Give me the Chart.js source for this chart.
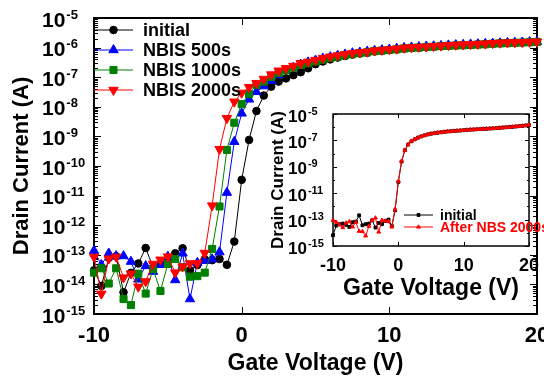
<!DOCTYPE html>
<html>
<head>
<meta charset="utf-8">
<script src="https://cdn.jsdelivr.net/npm/chart.js@4.4.1/dist/chart.umd.min.js"></script>
<style>
  html, body { margin: 0; padding: 0; background: #fff; }
  #wrap { position: relative; width: 544px; height: 378px; overflow: hidden; }
  #main { position: absolute; left: 0; top: 0; }
  #inset { position: absolute; left: 262px; top: 100px; }
</style>
</head>
<body>
<div id="wrap">
  <canvas id="main" width="544" height="378"></canvas>
  <canvas id="inset" width="282" height="205"></canvas>
</div>
<script>
// gate sweep (V)
const gateVoltage = [-10, -9.5, -9, -8.5, -8, -7.5, -7, -6.5, -6, -5.5, -5, -4.5, -4, -3.5, -3, -2.5, -2, -1.5, -1, -0.5,
  0, 0.5, 1, 1.5, 2, 2.5, 3, 3.5, 4, 4.5, 5, 5.5, 6, 6.5, 7, 7.5, 8, 8.5, 9, 9.5,
  10, 10.5, 11, 11.5, 12, 12.5, 13, 13.5, 14, 14.5, 15, 15.5, 16, 16.5, 17, 17.5, 18, 18.5, 19, 19.5, 20];

// drain current (A), main panel
const initial = [3.0e-14, 8.9e-15, 7.9e-14, 8.9e-14, 5.4e-15, 2.45e-14, 5.1e-14, 1.7e-13, 3.7e-14, 5.0e-14,
  7.1e-14, 1.12e-13, 1.66e-13, 3.0e-14, 4.5e-14, 7.1e-14, 6.6e-14, 7.2e-14, 4.6e-14, 2.8e-13,
  3.4e-11, 7.6e-10, 7.2e-9, 2.4e-8, 4.8e-8, 7.1e-8, 9.1e-8, 1.17e-7, 1.48e-7, 2.0e-7,
  2.75e-7, 3.4e-7, 4.0e-7, 4.6e-7, 5.2e-7, 5.8e-7, 6.3e-7, 6.7e-7, 7.4e-7, 7.8e-7,
  8.3e-7, 8.7e-7, 9.3e-7, 9.6e-7, 1.0e-6, 1.03e-6, 1.08e-6, 1.12e-6, 1.15e-6, 1.2e-6,
  1.23e-6, 1.26e-6, 1.29e-6, 1.32e-6, 1.36e-6, 1.4e-6, 1.44e-6, 1.46e-6, 1.49e-6, 1.53e-6, 1.56e-6];
const nbis500 = [1.38e-13, 4.6e-14, 1.12e-13, 9.1e-14, 9.1e-14, 5.9e-14, 1.48e-14, 4.2e-14, 2.7e-14, 4.6e-14,
  8.7e-14, 1.41e-14, 1.12e-13, 3.2e-15, 5.4e-14, 6.3e-14, 7.1e-14, 1.23e-13, 1.26e-11, 6.6e-10,
  6.0e-9, 1.78e-8, 3.2e-8, 5.0e-8, 7.6e-8, 1.17e-7, 1.66e-7, 2.1e-7, 2.7e-7, 3.2e-7,
  3.7e-7, 4.3e-7, 4.8e-7, 5.4e-7, 5.9e-7, 6.5e-7, 6.9e-7, 7.4e-7, 7.9e-7, 8.3e-7,
  8.7e-7, 9.3e-7, 9.8e-7, 1.02e-6, 1.05e-6, 1.10e-6, 1.12e-6, 1.15e-6, 1.2e-6, 1.23e-6,
  1.26e-6, 1.29e-6, 1.32e-6, 1.35e-6, 1.38e-6, 1.41e-6, 1.45e-6, 1.48e-6, 1.51e-6, 1.55e-6, 1.58e-6];
const nbis1000 = [2.5e-14, 3.5e-14, 1.07e-14, 3.5e-14, 3.2e-15, 2.0e-15, 2.3e-14, 4.9e-15, 3.3e-14, 6.0e-15,
  4.9e-14, 7.2e-14, 3.8e-14, 1.82e-14, 1.9e-14, 2.5e-14, 1.58e-13, 4.3e-12, 3.5e-10, 2.9e-9,
  1.23e-8, 2.7e-8, 5.5e-8, 7.1e-8, 1.02e-7, 1.38e-7, 1.7e-7, 2.1e-7, 2.6e-7, 2.95e-7,
  3.4e-7, 3.9e-7, 4.5e-7, 4.9e-7, 5.5e-7, 6.0e-7, 6.5e-7, 6.9e-7, 7.6e-7, 7.9e-7,
  8.3e-7, 8.7e-7, 9.3e-7, 9.8e-7, 1.0e-6, 1.05e-6, 1.07e-6, 1.12e-6, 1.15e-6, 1.17e-6,
  1.2e-6, 1.23e-6, 1.26e-6, 1.29e-6, 1.35e-6, 1.38e-6, 1.41e-6, 1.45e-6, 1.48e-6, 1.51e-6, 1.55e-6];
const nbis2000 = [8.5e-14, 4.8e-15, 7.4e-14, 8.5e-14, 1.7e-14, 2.3e-14, 8.3e-15, 1.26e-14, 4.9e-14, 6.8e-14,
  8.7e-14, 2.5e-14, 4.0e-14, 5.1e-14, 5.1e-14, 1.15e-13, 4.6e-12, 3.7e-10, 4.1e-9, 1.48e-8,
  2.95e-8, 4.6e-8, 6.3e-8, 8.7e-8, 1.23e-7, 1.66e-7, 2.0e-7, 2.4e-7, 2.95e-7, 3.3e-7,
  3.8e-7, 4.4e-7, 4.9e-7, 5.4e-7, 5.9e-7, 6.5e-7, 6.9e-7, 7.2e-7, 7.9e-7, 8.3e-7,
  8.7e-7, 9.1e-7, 9.8e-7, 1.02e-6, 1.05e-6, 1.07e-6, 1.12e-6, 1.15e-6, 1.2e-6, 1.23e-6,
  1.26e-6, 1.29e-6, 1.32e-6, 1.35e-6, 1.41e-6, 1.45e-6, 1.48e-6, 1.49e-6, 1.51e-6, 1.55e-6, 1.58e-6];

// inset panel
const insetInitial = [6.5e-15, 3.5e-14, 4.5e-14, 5.0e-14, 4.0e-14, 2.8e-14, 6.3e-14, 7.1e-14, 2.1e-13, 3.7e-14,
  4.5e-14, 5.0e-14, 8.9e-14, 2.5e-14, 5.6e-14, 4.5e-14, 7.9e-14, 1.0e-13, 3.3e-14, 5.0e-13,
  7.1e-11, 2.5e-9, 1.8e-8, 4.8e-8, 8.5e-8, 1.2e-7, 1.6e-7, 2.0e-7, 2.4e-7, 2.8e-7,
  3.2e-7, 3.5e-7, 3.8e-7, 4.1e-7, 4.4e-7, 4.7e-7, 4.9e-7, 5.1e-7, 5.4e-7, 5.6e-7,
  5.9e-7, 6.2e-7, 6.5e-7, 6.6e-7, 6.9e-7, 7.1e-7, 7.4e-7, 7.6e-7, 7.9e-7, 8.1e-7,
  8.5e-7, 8.9e-7, 9.3e-7, 9.8e-7, 1.02e-6, 1.07e-6, 1.12e-6, 1.2e-6, 1.26e-6, 1.35e-6, 1.45e-6];
const insetNbs2000 = [8.9e-14, 6.3e-14, 4.0e-14, 2.5e-14, 5.6e-14, 7.1e-14, 2.8e-14, 6.3e-14, 1.32e-14, 1.26e-14,
  5.8e-15, 3.2e-14, 8.9e-14, 1.35e-13, 1.15e-14, 8.9e-14, 7.9e-14, 7.1e-14, 2.75e-14, 6.2e-13,
  8.1e-11, 2.7e-9, 1.86e-8, 5.0e-8, 8.9e-8, 1.22e-7, 1.62e-7, 2.0e-7, 2.45e-7, 2.85e-7,
  3.2e-7, 3.55e-7, 3.85e-7, 4.1e-7, 4.4e-7, 4.7e-7, 4.95e-7, 5.15e-7, 5.4e-7, 5.6e-7,
  5.9e-7, 6.2e-7, 6.5e-7, 6.7e-7, 6.9e-7, 7.1e-7, 7.4e-7, 7.6e-7, 7.9e-7, 8.2e-7,
  8.5e-7, 8.9e-7, 9.3e-7, 9.8e-7, 1.03e-6, 1.08e-6, 1.13e-6, 1.2e-6, 1.27e-6, 1.36e-6, 1.46e-6];

// axis ticks
const xTicks = [-10, 0, 10, 20];
const mainDecades = [-15, -14, -13, -12, -11, -10, -9, -8, -7, -6, -5];
const insetDecades = [-15, -13, -11, -9, -7, -5];

const FONT = "'Liberation Sans', Arial, sans-serif";

function pts(ys) {
  return gateVoltage.map((v, i) => ({x: v, y: ys[i]}));
}

function drawMarker(ctx, style, x, y, r, rot) {
  ctx.beginPath();
  if (style === 'circle') {
    ctx.arc(x, y, r, 0, Math.PI * 2);
  } else if (style === 'rect') {
    const s = r * Math.SQRT1_2;
    ctx.rect(x - s, y - s, 2 * s, 2 * s);
  } else {
    const a0 = (rot || 0) * Math.PI / 180;
    for (let k = 0; k < 3; k++) {
      const a = a0 + k * 2 * Math.PI / 3;
      const px = x + Math.sin(a) * r, py = y - Math.cos(a) * r;
      if (k) ctx.lineTo(px, py); else ctx.moveTo(px, py);
    }
    ctx.closePath();
  }
  ctx.fill();
  ctx.stroke();
}

// box, inward ticks, power-of-ten labels and legend
function framePlugin(cfg) {
  return {
    id: 'frame',
    beforeDatasetsDraw(chart) {
      const {ctx, chartArea: a, scales: {x, y}} = chart;
      ctx.save();
      ctx.strokeStyle = '#000';
      ctx.lineWidth = 1;
      ctx.beginPath();
      y.ticks.forEach(t => {
        const py = Math.round(y.getPixelForValue(t.value)) + 0.5;
        const len = t.major ? cfg.majorLen : cfg.minorLen;
        ctx.moveTo(a.left, py); ctx.lineTo(a.left + len, py);
        ctx.moveTo(a.right, py); ctx.lineTo(a.right - len, py);
      });
      xTicks.forEach(v => {
        const px = Math.round(x.getPixelForValue(v)) + 0.5;
        ctx.moveTo(px, a.bottom); ctx.lineTo(px, a.bottom - cfg.majorLen);
        ctx.moveTo(px, a.top); ctx.lineTo(px, a.top + cfg.majorLen);
      });
      ctx.stroke();
      ctx.lineWidth = cfg.boxWidth;
      ctx.strokeRect(a.left, a.top, a.right - a.left, a.bottom - a.top);
      ctx.restore();
    },
    afterDraw(chart) {
      const {ctx, chartArea: a, scales: {y}} = chart;
      ctx.save();
      ctx.fillStyle = '#000';
      ctx.textAlign = 'left';
      ctx.textBaseline = 'alphabetic';
      cfg.labelDecades.forEach(n => {
        const py = y.getPixelForValue(Number('1e' + n));
        ctx.font = 'bold ' + cfg.baseSize + 'px ' + FONT;
        ctx.fillText('10', cfg.labelX, py + cfg.baseDrop);
        const w = ctx.measureText('10').width;
        ctx.font = 'bold ' + cfg.supSize + 'px ' + FONT;
        ctx.fillText(String(n), cfg.labelX + w + 1, py + 0.5);
      });
      // legend
      chart.data.datasets.forEach((ds, i) => {
        const ly = cfg.legendY + cfg.legendGap * i;
        ctx.strokeStyle = ds.borderColor;
        ctx.lineWidth = 1;
        ctx.beginPath();
        ctx.moveTo(cfg.legendX, ly); ctx.lineTo(cfg.legendX + cfg.legendLine, ly);
        ctx.stroke();
        ctx.fillStyle = ds.pointBackgroundColor;
        ctx.strokeStyle = ds.pointBorderColor;
        drawMarker(ctx, ds.pointStyle, cfg.legendX + cfg.legendLine / 2, ly, ds.pointRadius, ds.pointRotation);
        ctx.fillStyle = cfg.legendTextColor ? ds.borderColor : '#000';
        ctx.font = 'bold ' + cfg.legendSize + 'px ' + FONT;
        ctx.textBaseline = 'middle';
        ctx.fillText(ds.label, cfg.legendText, ly + 1);
        ctx.textBaseline = 'alphabetic';
      });
      ctx.restore();
    }
  };
}

function series(label, ys, color, style, radius, rotation, order) {
  return {
    label: label,
    data: pts(ys),
    borderColor: color,
    backgroundColor: color,
    pointBackgroundColor: color,
    pointBorderColor: color,
    pointBorderWidth: 1,
    pointStyle: style,
    pointRadius: radius,
    pointRotation: rotation,
    borderWidth: 1,
    tension: 0,
    clip: false,
    order: order
  };
}

function axes(o) {
  return {
    x: {
      type: 'linear', min: -10, max: 20,
      grid: {display: false, drawTicks: false}, border: {display: false},
      ticks: {stepSize: 10, autoSkip: false, maxRotation: 0, padding: o.xPad, color: '#000',
        font: {family: FONT, size: o.xTickSize, weight: 'bold'}},
      title: {display: true, text: 'Gate Voltage (V)', color: '#000',
        font: {family: FONT, size: 23, weight: 'bold'}, padding: {top: 0, bottom: o.xTitlePad}},
      afterFit(s) { s.height = o.xHeight; s.paddingLeft = 0; s.paddingRight = 0; }
    },
    y: {
      type: 'logarithmic', min: 1e-15, max: 1e-5,
      grid: {display: false, drawTicks: false}, border: {display: false},
      ticks: {display: false},
      title: {display: true, text: 'Drain Current (A)', color: '#000',
        font: {family: FONT, size: o.yTitleSize, weight: 'bold'}, padding: {top: o.yTitlePad, bottom: 0}},
      afterBuildTicks(s) {
        const t = [];
        mainDecades.forEach(n => {
          for (let m = 1; m <= (n === -5 ? 1 : 9); m++) {
            if (!o.minor && m > 1) break;
            t.push({value: Number(m + 'e' + n), major: m === 1 && (o.minor || n % 2 !== 0)});
          }
        });
        s.ticks = t;
      },
      afterFit(s) { s.width = o.yWidth; s.paddingTop = 0; s.paddingBottom = 0; }
    }
  };
}

new Chart(document.getElementById('main'), {
  type: 'line',
  data: {
    datasets: [
      series('initial', initial, '#000000', 'circle', 3.8, 0, 4),
      series('NBIS 500s', nbis500, '#0000ff', 'triangle', 5.4, 0, 3),
      series('NBIS 1000s', nbis1000, '#008000', 'rect', 5, 0, 2),
      series('NBIS 2000s', nbis2000, '#ff0000', 'triangle', 5.4, 180, 1)
    ]
  },
  options: {
    responsive: false,
    animation: false,
    devicePixelRatio: 1,
    layout: {padding: {top: 18, right: 7, left: 0, bottom: 0}},
    plugins: {legend: {display: false}, tooltip: {enabled: false}},
    scales: axes({xPad: 9, xTickSize: 22, xTitlePad: 1, xHeight: 64, yTitleSize: 22, yTitlePad: 9, yWidth: 94, minor: true})
  },
  plugins: [framePlugin({
    majorLen: 7, minorLen: 4, boxWidth: 2,
    labelDecades: mainDecades, labelX: 42, baseSize: 21, baseDrop: 8.5, supSize: 13,
    legendX: 94, legendY: 30, legendGap: 20, legendLine: 39, legendText: 143, legendSize: 18
  })]
});

new Chart(document.getElementById('inset'), {
  type: 'line',
  data: {
    datasets: [
      series('initial', insetInitial, '#000000', 'rect', 2, 0, 2),
      series('After NBS 2000s', insetNbs2000, '#ff0000', 'triangle', 2.2, 0, 1)
    ]
  },
  options: {
    responsive: false,
    animation: false,
    devicePixelRatio: 1,
    layout: {padding: {top: 14, right: 15, left: 0, bottom: 0}},
    plugins: {legend: {display: false}, tooltip: {enabled: false}},
    scales: axes({xPad: 9, xTickSize: 18, xTitlePad: 3, xHeight: 59, yTitleSize: 17, yTitlePad: 6, yWidth: 71, minor: false})
  },
  plugins: [framePlugin({
    majorLen: 4, minorLen: 2, boxWidth: 1.5,
    labelDecades: insetDecades, labelX: 26, baseSize: 17, baseDrop: 7.5, supSize: 11,
    legendX: 142, legendY: 115, legendGap: 12, legendLine: 29, legendText: 178, legendSize: 14,
    legendTextColor: true
  })]
});
</script>
</body>
</html>
